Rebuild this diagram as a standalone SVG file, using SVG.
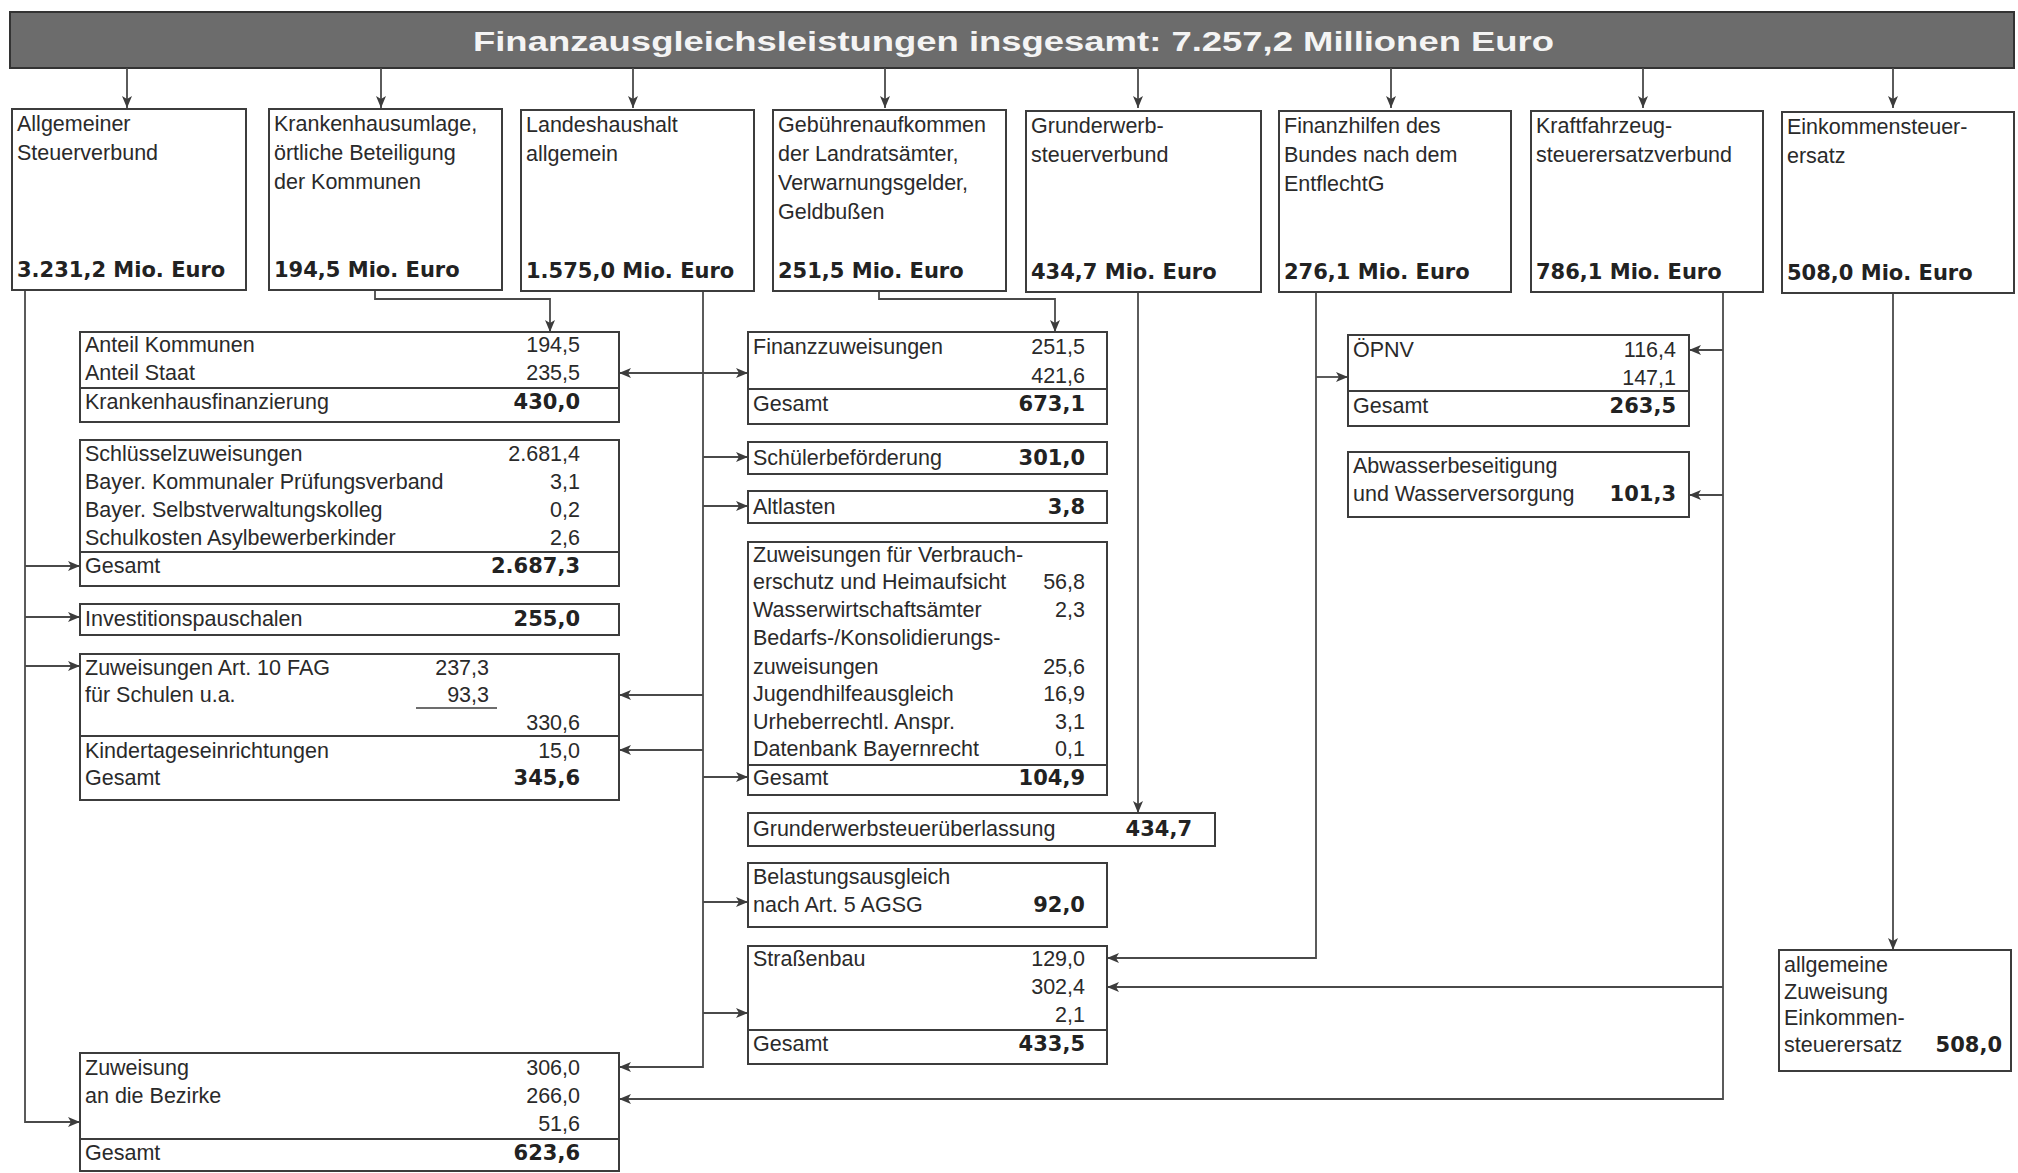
<svg xmlns="http://www.w3.org/2000/svg" width="2018" height="1173" viewBox="0 0 2018 1173">
<style>
.bx{fill:#fff;stroke:#3c3c3c;stroke-width:2}
.sep{stroke:#3c3c3c;stroke-width:2}
.t{font-family:"Liberation Sans",Arial,sans-serif;font-size:21.5px;fill:#2a2a2a}
.r{text-anchor:end}
.b{font-family:"DejaVu Sans",sans-serif;font-weight:bold;font-size:21px;fill:#222}
.c{fill:none;stroke:#4a4a4a;stroke-width:1.8;marker-end:url(#ah)}
.cn{fill:none;stroke:#4a4a4a;stroke-width:1.8}
</style>
<defs>
<marker id="ah" viewBox="0 0 12 10" refX="12" refY="5" markerWidth="12" markerHeight="10" markerUnits="userSpaceOnUse" orient="auto"><path d="M0,0 L12,5 L0,10 L3,5 z" fill="#3c3c3c"/></marker>
</defs>
<rect width="2018" height="1173" fill="#fff"/>

<g id="title">
<rect x="10" y="12" width="2004" height="56" fill="#6c6c6c" stroke="#333" stroke-width="2"/>
<text x="473" y="51" font-family="Liberation Sans,Arial,sans-serif" font-weight="bold" font-size="28" fill="#f4f4f4" textLength="1081" lengthAdjust="spacingAndGlyphs">Finanzausgleichsleistungen insgesamt: 7.257,2 Millionen Euro</text>
</g>

<g id="connectors">
<path class="c" d="M127,68V108"/><path class="c" d="M381,68V108"/><path class="c" d="M633,68V108"/><path class="c" d="M885,68V108"/>
<path class="c" d="M1138,68V108"/><path class="c" d="M1391,68V108"/><path class="c" d="M1643,68V108"/><path class="c" d="M1893,68V108"/>
<path class="c" d="M25,290V1122H80"/>
<path class="c" d="M25,566H80"/><path class="c" d="M25,617H80"/><path class="c" d="M25,666H80"/>
<path class="c" d="M375,290V299H550V332"/>
<path class="c" d="M703,290V1067H619"/>
<path class="c" d="M703,373H619"/><path class="c" d="M703,373H748"/>
<path class="c" d="M703,457H748"/><path class="c" d="M703,506H748"/>
<path class="c" d="M703,695H619"/><path class="c" d="M703,750H619"/>
<path class="c" d="M703,777H748"/><path class="c" d="M703,902H748"/><path class="c" d="M703,1013H748"/>
<path class="c" d="M879,290V299H1055V332"/>
<path class="c" d="M1138,290V813"/>
<path class="c" d="M1316,290V958H1107"/><path class="c" d="M1316,377H1348"/>
<path class="c" d="M1723,290V1099H619"/>
<path class="c" d="M1723,350H1689"/><path class="c" d="M1723,495H1689"/><path class="c" d="M1723,987H1107"/>
<path class="c" d="M1893,290V950"/>
</g>

<g id="n1"><rect class="bx" x="12" y="109" width="234" height="181"/>
<text class="t" x="17" y="131">Allgemeiner</text><text class="t" x="17" y="160">Steuerverbund</text>
<text class="b" x="17" y="277">3.231,2 Mio. Euro</text></g>
<g id="n2"><rect class="bx" x="269" y="109" width="233" height="181"/>
<text class="t" x="274" y="131">Krankenhausumlage,</text><text class="t" x="274" y="160">örtliche Beteiligung</text><text class="t" x="274" y="189">der Kommunen</text>
<text class="b" x="274" y="277">194,5 Mio. Euro</text></g>
<g id="n3"><rect class="bx" x="521" y="110" width="233" height="181"/>
<text class="t" x="526" y="132">Landeshaushalt</text><text class="t" x="526" y="161">allgemein</text>
<text class="b" x="526" y="278">1.575,0 Mio. Euro</text></g>
<g id="n4"><rect class="bx" x="773" y="110" width="233" height="181"/>
<text class="t" x="778" y="132">Gebührenaufkommen</text><text class="t" x="778" y="161">der Landratsämter,</text><text class="t" x="778" y="190">Verwarnungsgelder,</text><text class="t" x="778" y="219">Geldbußen</text>
<text class="b" x="778" y="278">251,5 Mio. Euro</text></g>
<g id="n5"><rect class="bx" x="1026" y="111" width="235" height="181"/>
<text class="t" x="1031" y="133">Grunderwerb-</text><text class="t" x="1031" y="162">steuerverbund</text>
<text class="b" x="1031" y="279">434,7 Mio. Euro</text></g>
<g id="n6"><rect class="bx" x="1279" y="111" width="232" height="181"/>
<text class="t" x="1284" y="133">Finanzhilfen des</text><text class="t" x="1284" y="162">Bundes nach dem</text><text class="t" x="1284" y="191">EntflechtG</text>
<text class="b" x="1284" y="279">276,1 Mio. Euro</text></g>
<g id="n7"><rect class="bx" x="1531" y="111" width="232" height="181"/>
<text class="t" x="1536" y="133">Kraftfahrzeug-</text><text class="t" x="1536" y="162">steuerersatzverbund</text>
<text class="b" x="1536" y="279">786,1 Mio. Euro</text></g>
<g id="n8"><rect class="bx" x="1782" y="112" width="232" height="181"/>
<text class="t" x="1787" y="134">Einkommensteuer-</text><text class="t" x="1787" y="163">ersatz</text>
<text class="b" x="1787" y="280">508,0 Mio. Euro</text></g>

<g id="krankenhaus"><rect class="bx" x="80" y="332" width="539" height="90"/><line class="sep" x1="80" y1="388" x2="619" y2="388"/>
<text class="t" x="85" y="352">Anteil Kommunen</text><text class="t r" x="580" y="352">194,5</text>
<text class="t" x="85" y="380">Anteil Staat</text><text class="t r" x="580" y="380">235,5</text>
<text class="t" x="85" y="409">Krankenhausfinanzierung</text><text class="b r" x="580" y="409">430,0</text></g>

<g id="schluessel"><rect class="bx" x="80" y="440" width="539" height="146"/><line class="sep" x1="80" y1="552" x2="619" y2="552"/>
<text class="t" x="85" y="461">Schlüsselzuweisungen</text><text class="t r" x="580" y="461">2.681,4</text>
<text class="t" x="85" y="489">Bayer. Kommunaler Prüfungsverband</text><text class="t r" x="580" y="489">3,1</text>
<text class="t" x="85" y="517">Bayer. Selbstverwaltungskolleg</text><text class="t r" x="580" y="517">0,2</text>
<text class="t" x="85" y="545">Schulkosten Asylbewerberkinder</text><text class="t r" x="580" y="545">2,6</text>
<text class="t" x="85" y="573">Gesamt</text><text class="b r" x="580" y="573">2.687,3</text></g>

<g id="investition"><rect class="bx" x="80" y="604" width="539" height="31"/>
<text class="t" x="85" y="626">Investitionspauschalen</text><text class="b r" x="580" y="626">255,0</text></g>

<g id="schulen"><rect class="bx" x="80" y="654" width="539" height="146"/><line class="sep" x1="80" y1="736" x2="619" y2="736"/>
<line x1="416" y1="708" x2="497" y2="708" stroke="#3c3c3c" stroke-width="1.6"/>
<text class="t" x="85" y="675">Zuweisungen Art. 10 FAG</text><text class="t r" x="489" y="675">237,3</text>
<text class="t" x="85" y="702">für Schulen u.a.</text><text class="t r" x="489" y="702">93,3</text>
<text class="t r" x="580" y="730">330,6</text>
<text class="t" x="85" y="758">Kindertageseinrichtungen</text><text class="t r" x="580" y="758">15,0</text>
<text class="t" x="85" y="785">Gesamt</text><text class="b r" x="580" y="785">345,6</text></g>

<g id="bezirke"><rect class="bx" x="80" y="1053" width="539" height="118"/><line class="sep" x1="80" y1="1139" x2="619" y2="1139"/>
<text class="t" x="85" y="1075">Zuweisung</text><text class="t r" x="580" y="1075">306,0</text>
<text class="t" x="85" y="1103">an die Bezirke</text><text class="t r" x="580" y="1103">266,0</text>
<text class="t r" x="580" y="1131">51,6</text>
<text class="t" x="85" y="1160">Gesamt</text><text class="b r" x="580" y="1160">623,6</text></g>

<g id="finanzzuweisungen"><rect class="bx" x="748" y="332" width="359" height="92"/><line class="sep" x1="748" y1="389" x2="1107" y2="389"/>
<text class="t" x="753" y="354">Finanzzuweisungen</text><text class="t r" x="1085" y="354">251,5</text>
<text class="t r" x="1085" y="383">421,6</text>
<text class="t" x="753" y="411">Gesamt</text><text class="b r" x="1085" y="411">673,1</text></g>

<g id="schueler"><rect class="bx" x="748" y="442" width="359" height="32"/>
<text class="t" x="753" y="465">Schülerbeförderung</text><text class="b r" x="1085" y="465">301,0</text></g>

<g id="altlasten"><rect class="bx" x="748" y="491" width="359" height="32"/>
<text class="t" x="753" y="514">Altlasten</text><text class="b r" x="1085" y="514">3,8</text></g>

<g id="verbraucher"><rect class="bx" x="748" y="542" width="359" height="253"/><line class="sep" x1="748" y1="765" x2="1107" y2="765"/>
<text class="t" x="753" y="562">Zuweisungen für Verbrauch-</text>
<text class="t" x="753" y="589">erschutz und Heimaufsicht</text><text class="t r" x="1085" y="589">56,8</text>
<text class="t" x="753" y="617">Wasserwirtschaftsämter</text><text class="t r" x="1085" y="617">2,3</text>
<text class="t" x="753" y="645">Bedarfs-/Konsolidierungs-</text>
<text class="t" x="753" y="674">zuweisungen</text><text class="t r" x="1085" y="674">25,6</text>
<text class="t" x="753" y="701">Jugendhilfeausgleich</text><text class="t r" x="1085" y="701">16,9</text>
<text class="t" x="753" y="729">Urheberrechtl. Anspr.</text><text class="t r" x="1085" y="729">3,1</text>
<text class="t" x="753" y="756">Datenbank Bayernrecht</text><text class="t r" x="1085" y="756">0,1</text>
<text class="t" x="753" y="785">Gesamt</text><text class="b r" x="1085" y="785">104,9</text></g>

<g id="grunderwerbsteuer"><rect class="bx" x="748" y="813" width="467" height="33"/>
<text class="t" x="753" y="836">Grunderwerbsteuerüberlassung</text><text class="b r" x="1192" y="836">434,7</text></g>

<g id="belastung"><rect class="bx" x="748" y="863" width="359" height="64"/>
<text class="t" x="753" y="884">Belastungsausgleich</text>
<text class="t" x="753" y="912">nach Art. 5 AGSG</text><text class="b r" x="1085" y="912">92,0</text></g>

<g id="strassenbau"><rect class="bx" x="748" y="946" width="359" height="118"/><line class="sep" x1="748" y1="1030" x2="1107" y2="1030"/>
<text class="t" x="753" y="966">Straßenbau</text><text class="t r" x="1085" y="966">129,0</text>
<text class="t r" x="1085" y="994">302,4</text>
<text class="t r" x="1085" y="1022">2,1</text>
<text class="t" x="753" y="1051">Gesamt</text><text class="b r" x="1085" y="1051">433,5</text></g>

<g id="oepnv"><rect class="bx" x="1348" y="335" width="341" height="91"/><line class="sep" x1="1348" y1="391" x2="1689" y2="391"/>
<text class="t" x="1353" y="357">ÖPNV</text><text class="t r" x="1676" y="357">116,4</text>
<text class="t r" x="1676" y="385">147,1</text>
<text class="t" x="1353" y="413">Gesamt</text><text class="b r" x="1676" y="413">263,5</text></g>

<g id="abwasser"><rect class="bx" x="1348" y="452" width="341" height="65"/>
<text class="t" x="1353" y="473">Abwasserbeseitigung</text>
<text class="t" x="1353" y="501">und Wasserversorgung</text><text class="b r" x="1676" y="501">101,3</text></g>

<g id="einkommen"><rect class="bx" x="1779" y="950" width="232" height="121"/>
<text class="t" x="1784" y="972">allgemeine</text>
<text class="t" x="1784" y="999">Zuweisung</text>
<text class="t" x="1784" y="1025">Einkommen-</text>
<text class="t" x="1784" y="1052">steuerersatz</text><text class="b r" x="2002" y="1052">508,0</text></g>
</svg>
